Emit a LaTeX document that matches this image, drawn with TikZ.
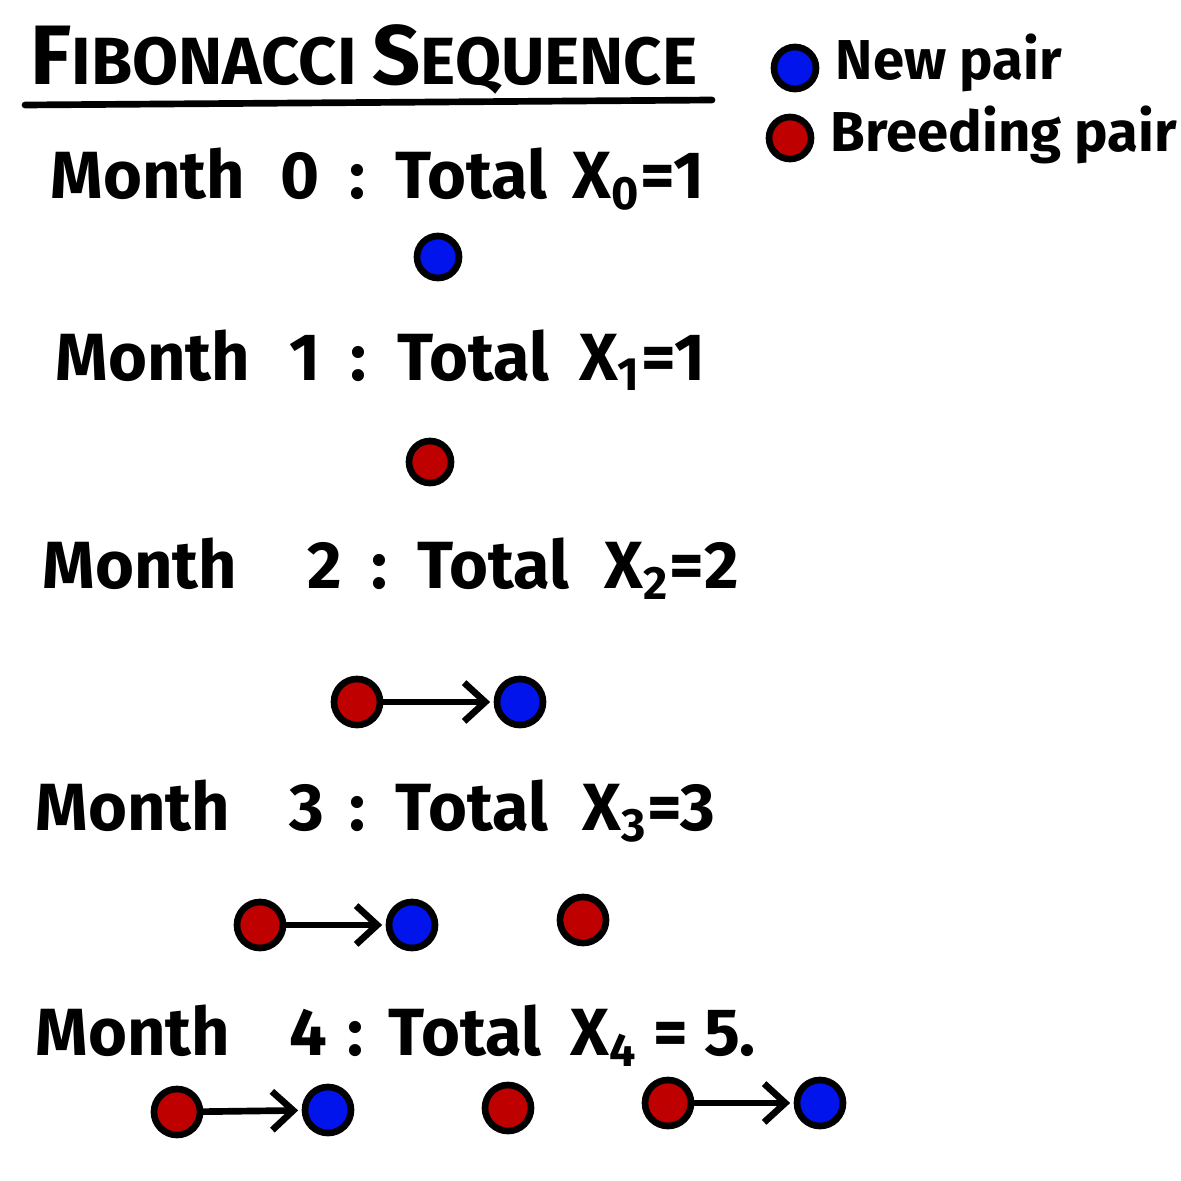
\documentclass[tikz,border=0pt]{standalone}
\usepackage{fontspec}
\setmainfont{Fira Sans}
\usetikzlibrary{arrows.meta}

\definecolor{newblue}{RGB}{0,20,235}
\definecolor{breedred}{RGB}{190,0,0}

\tikzset{
  pair/.style={circle, draw=black, line width=1.9pt, inner sep=0pt},
  newpair/.style={pair, fill=newblue},
  breedpair/.style={pair, fill=breedred},
  month/.style={anchor=base west, inner sep=0pt, font=\fontsize{19}{22}\selectfont\bfseries},
  legend/.style={anchor=base west, inner sep=0pt, font=\fontsize{16}{19}\selectfont\bfseries},
  birth/.style={-{Straight Barb[length=6pt,width=11pt]}, line width=1.9pt, line cap=round, shorten >=1pt}
}

\begin{document}
\begin{tikzpicture}[color=black, x=1cm, y=1cm]
  \useasboundingbox (0,0) rectangle (11.81,-11.81);
  % Title and underline
  \node[anchor=base west, inner sep=0pt] (title) at (0.30,-0.85)
    {\bfseries\fontsize{24}{28}\selectfont F\fontsize{19}{22}\selectfont IBONACCI\
     \fontsize{24}{28}\selectfont S\fontsize{19}{22}\selectfont EQUENCE};
  \draw[line width=1.9pt, line cap=round] (0.25,-1.05) -- (7.12,-1.00);
  % Legend
  \node[newpair, minimum size=0.42cm] (keynew) at (7.95,-0.68) {};
  \node[legend] (keynewtxt) at (8.35,-0.80) {New pair};
  \node[breedpair, minimum size=0.42cm] (keybreed) at (7.90,-1.38) {};
  \node[legend] (keybreedtxt) at (8.30,-1.52) {Breeding pair};

  % Month 0
  \node[month] (m0) at (0.50,-1.98)
    {Month\hspace{0.35cm}0\hspace{0.3cm}:\hspace{0.3cm}Total\hspace{0.25cm}X\textsubscript{0}=1};
  \node[newpair, minimum size=0.42cm] (b0) at (4.38,-2.57) {};
  % Month 1
  \node[month] (m1) at (0.55,-3.80)
    {Month\hspace{0.4cm}1\hspace{0.3cm}:\hspace{0.3cm}Total\hspace{0.3cm}X\textsubscript{1}=1};
  \node[breedpair, minimum size=0.42cm] (r1) at (4.30,-4.62) {};
  % Month 2
  \node[month] (m2) at (0.42,-5.88)
    {Month\hspace{0.7cm}2\hspace{0.3cm}:\hspace{0.3cm}Total\hspace{0.35cm}X\textsubscript{2}=2};
  \node[breedpair, minimum size=0.46cm] (r2a) at (3.57,-7.02) {};
  \node[newpair, minimum size=0.46cm] (b2a) at (5.20,-7.02) {};
  \draw[birth] (r2a) -- (b2a);
  % Month 3
  \node[month] (m3) at (0.35,-8.30)
    {Month\hspace{0.6cm}3\hspace{0.25cm}:\hspace{0.3cm}Total\hspace{0.35cm}X\textsubscript{3}=3};
  \node[breedpair, minimum size=0.46cm] (r3a) at (2.60,-9.25) {};
  \node[newpair, minimum size=0.46cm] (b3a) at (4.12,-9.25) {};
  \node[breedpair, minimum size=0.46cm] (r3b) at (5.83,-9.20) {};
  \draw[birth] (r3a) -- (b3a);
  % Month 4
  \node[month] (m4) at (0.35,-10.55)
    {Month\hspace{0.6cm}4\hspace{0.2cm}:\hspace{0.25cm}Total\hspace{0.3cm}X\textsubscript{4} = 5.};
  \node[breedpair, minimum size=0.46cm] (r4a) at (1.77,-11.12) {};
  \node[newpair, minimum size=0.46cm] (b4a) at (3.28,-11.10) {};
  \node[breedpair, minimum size=0.46cm] (r4b) at (5.08,-11.08) {};
  \node[breedpair, minimum size=0.46cm] (r4c) at (6.68,-11.03) {};
  \node[newpair, minimum size=0.46cm] (b4b) at (8.20,-11.03) {};
  \draw[birth] (r4a) -- (b4a);
  \draw[birth] (r4c) -- (b4b);
\end{tikzpicture}
\end{document}
